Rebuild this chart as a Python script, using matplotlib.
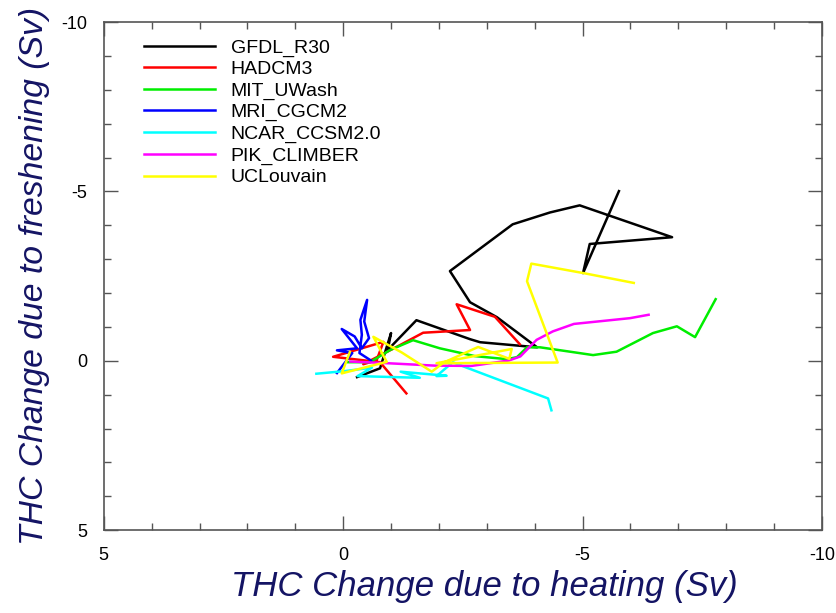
import numpy as np
import matplotlib
matplotlib.use("Agg")
import matplotlib.pyplot as plt
from matplotlib.ticker import MultipleLocator

plt.rcParams['font.family'] = ['Liberation Sans', 'DejaVu Sans']
plt.rcParams['axes.unicode_minus'] = False

# THC change due to heating (x) and due to freshening (y), Sv
gfdl_x = [-0.29, -0.77, -1.00, -0.93, -1.53, -2.65, -2.86, -4.05, -3.21, -2.65, -2.23, -3.54, -4.32, -4.94, -6.87, -5.15, -5.01, -5.76]
gfdl_y = [0.48, 0.22, -0.82, -0.32, -1.20, -0.64, -0.55, -0.40, -1.29, -1.73, -2.65, -4.03, -4.38, -4.59, -3.65, -3.45, -2.59, -5.01]

hadcm3_x = [-1.32, -0.77, 0.21, -0.84, -0.70, -0.42, -1.18, -1.67, -2.65, -2.37, -3.17, -3.69]
hadcm3_y = [0.96, 0.04, -0.12, -0.56, -0.02, 0.10, -0.46, -0.83, -0.91, -1.67, -1.30, -0.49]

mit_x = [-0.10, -0.56, -0.98, -1.46, -2.02, -2.75, -3.42, -3.63, -3.84, -4.11, -4.74, -5.22, -5.71, -6.47, -6.97, -7.35, -7.78]
mit_y = [0.04, 0.04, -0.32, -0.61, -0.37, -0.14, -0.05, -0.11, -0.40, -0.40, -0.27, -0.17, -0.27, -0.82, -1.02, -0.70, -1.82]

mri_x = [0.13, -0.19, 0.13, -0.29, 0.03, -0.24, -0.39, -0.54, -0.44, -0.50, -0.36, -0.39, -0.34, -0.58]
mri_y = [0.36, -0.23, -0.31, -0.37, -0.94, -0.72, -0.37, -0.67, -1.16, -1.80, -1.21, -0.77, -0.23, -0.01]

ncar_x = [0.56, -0.05, -0.60, -0.30, -1.60, -1.20, -2.16, -1.95, -2.29, -2.54, -4.28, -4.35]
ncar_y = [0.38, 0.30, 0.20, 0.45, 0.50, 0.32, 0.44, 0.45, 0.04, 0.18, 1.11, 1.46]

pik_x = [-0.15, -0.93, -1.90, -2.68, -3.46, -3.70, -4.04, -4.38, -4.82, -5.99, -6.38]
pik_y = [0.02, 0.07, 0.14, 0.15, -0.01, -0.13, -0.62, -0.87, -1.09, -1.26, -1.36]

ucl_x = [-0.14, 0.03, -0.91, -0.63, -1.22, -1.85, -2.10, -2.82, -3.47, -3.52, -1.95, -4.48, -3.84, -3.93, -5.02, -6.07]
ucl_y = [-0.26, 0.37, 0.03, -0.71, -0.25, 0.32, 0.05, -0.41, -0.06, -0.35, 0.07, 0.05, -2.35, -2.87, -2.59, -2.30]

models = ['GFDL_R30', 'HADCM3', 'MIT_UWash', 'MRI_CGCM2', 'NCAR_CCSM2.0', 'PIK_CLIMBER', 'UCLouvain']
colors = ['black', '#ff0000', '#00ee00', '#0000ff', '#00ffff', '#ff00ff', '#ffff00']
xs = [gfdl_x, hadcm3_x, mit_x, mri_x, ncar_x, pik_x, ucl_x]
ys = [gfdl_y, hadcm3_y, mit_y, mri_y, ncar_y, pik_y, ucl_y]

fig = plt.figure(figsize=(8.37, 6.13), dpi=100)
ax = fig.add_axes([0.124, 0.135, 0.858, 0.829])

for name, c, x, y in zip(models, colors, xs, ys):
    ax.plot(x, y, color=c, lw=1.8, label=name)

ax.set_xlim(5, -10)
ax.set_ylim(5, -10)
ax.xaxis.set_major_locator(MultipleLocator(5))
ax.yaxis.set_major_locator(MultipleLocator(5))
ax.xaxis.set_minor_locator(MultipleLocator(1))
ax.yaxis.set_minor_locator(MultipleLocator(1))
ax.tick_params(which='both', direction='in', top=True, right=True, color='#555555')
ax.tick_params(which='major', length=10, width=1, labelsize=13, pad=12)
ax.tick_params(which='minor', length=5, width=1)
for s in ax.spines.values():
    s.set_color('#555555')
    s.set_linewidth(1.2)

navy = '#141464'
ax.set_xlabel('THC Change due to heating (Sv)', fontsize=25, style='italic', color=navy)
ax.set_ylabel('THC Change due to freshening (Sv)', fontsize=24.3, style='italic', color=navy)
ax.xaxis.set_label_coords(0.53, -0.078)
ax.yaxis.set_label_coords(-0.075, 0.5)

ax.legend(loc='upper left', frameon=False, fontsize=14, handlelength=3.65,
          handletextpad=0.8, labelspacing=0.2, borderaxespad=0.2,
          bbox_to_anchor=(0.04, 0.99))

fig.savefig('out.png', dpi=100)
